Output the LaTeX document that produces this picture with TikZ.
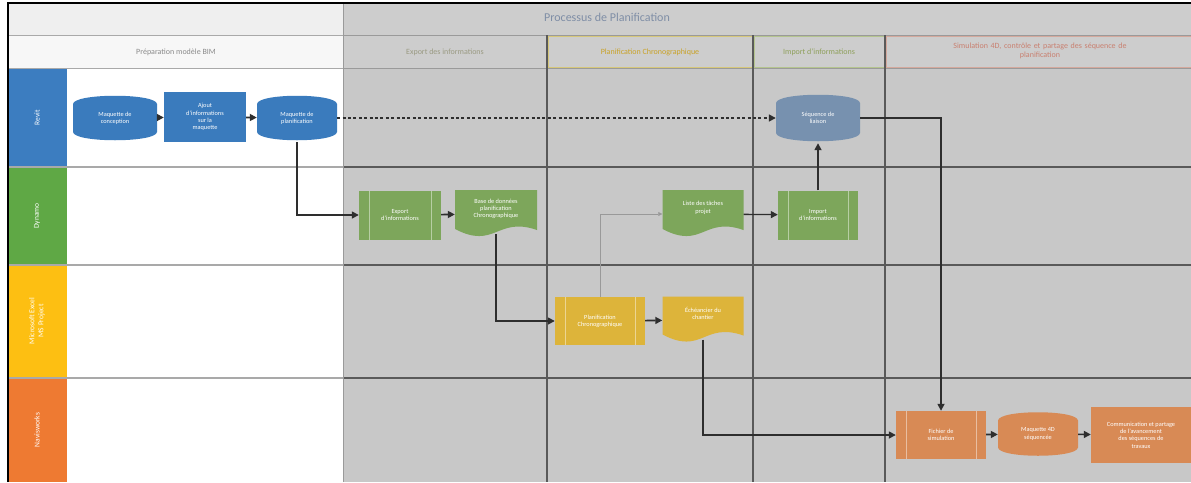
\documentclass[tikz,border=0pt]{standalone}
\usepackage{fontspec}
\setmainfont{Carlito}
\usetikzlibrary{arrows.meta,calc}

\definecolor{bluelane}{HTML}{3C7DC0}
\definecolor{greenlane}{HTML}{5FA845}
\definecolor{yellowlane}{HTML}{FDBF12}
\definecolor{orangelane}{HTML}{EE7A32}
\definecolor{bluefill}{HTML}{3A7BBD}
\definecolor{bluemuted}{HTML}{7791AF}
\definecolor{greenmuted}{HTML}{7DA65B}
\definecolor{yellowmuted}{HTML}{DDB43A}
\definecolor{orangemuted}{HTML}{D88A55}
\definecolor{planbg}{HTML}{C8C8C8}
\definecolor{planhead}{HTML}{CDCDCD}
\definecolor{gridlight}{HTML}{A9A9A9}
\definecolor{gridmid}{HTML}{9A9A9A}
\definecolor{griddark}{HTML}{5A5A5A}
\definecolor{connector}{HTML}{2E2E2E}
\definecolor{titleband}{HTML}{EFEFEF}
\definecolor{headband}{HTML}{F7F7F7}
\definecolor{cellyellow}{HTML}{D6C77A}
\definecolor{cellgreen}{HTML}{B4C48E}
\definecolor{cellorange}{HTML}{D4A89C}
\definecolor{titletext}{HTML}{7F8EA6}
\definecolor{preptext}{HTML}{8A8A8A}
\definecolor{exporttext}{HTML}{9A9A82}
\definecolor{plantext}{HTML}{C9A227}
\definecolor{importtext}{HTML}{8E9F5A}
\definecolor{simtext}{HTML}{C98070}

\tikzset{
  nodetext/.style={text=white, font=\fontsize{6.3}{7.3}\selectfont, align=center, inner sep=1pt},
  procbox/.style={nodetext, fill=#1, minimum width=82, minimum height=50},
  predef/.style={procbox=#1,
    path picture={
      \draw[white, opacity=0.45, line width=0.5pt]
        ([xshift=10pt]path picture bounding box.north west) -- ([xshift=10pt]path picture bounding box.south west)
        ([xshift=-10pt]path picture bounding box.north east) -- ([xshift=-10pt]path picture bounding box.south east);
    }},
  store/.style={nodetext, minimum width=82, minimum height=48,
    path picture={
      \fill[#1]
        ([yshift=-10pt]path picture bounding box.north west)
          .. controls ([xshift=1pt,yshift=1pt]path picture bounding box.north west)
          and ([xshift=-1pt,yshift=1pt]path picture bounding box.north east)
          .. ([yshift=-10pt]path picture bounding box.north east)
        -- ([yshift=10pt]path picture bounding box.south east)
          .. controls ([xshift=-1pt,yshift=-1pt]path picture bounding box.south east)
          and ([xshift=1pt,yshift=-1pt]path picture bounding box.south west)
          .. ([yshift=10pt]path picture bounding box.south west)
        -- cycle;
    }},
  document/.style={nodetext, minimum width=81, minimum height=48,
    path picture={
      \fill[#1]
        (path picture bounding box.north west) -- (path picture bounding box.north east)
        -- ([yshift=8pt]path picture bounding box.south east)
          .. controls ([xshift=-40pt,yshift=22pt]path picture bounding box.south east)
          and ([xshift=40pt,yshift=-12pt]path picture bounding box.south west)
          .. ([yshift=9pt]path picture bounding box.south west)
        -- cycle;
    }},
  conn/.style={draw=connector, line width=1.6pt, -{Triangle[length=7pt,width=7pt]}},
  dotconn/.style={conn, dash pattern=on 3pt off 2.4pt},
  thinconn/.style={draw=gray!80, line width=0.6pt, -{Triangle[length=4pt,width=4pt]}},
  lanelabel/.style={rotate=90, text=white, font=\fontsize{7.5}{9}\selectfont, align=center},
  colhead/.style={font=\fontsize{8}{9.5}\selectfont, align=center},
}

\begin{document}
\begin{tikzpicture}[x=1pt,y=-1pt]
\useasboundingbox (0,0) rectangle (1191,482);
\fill[white] (0,0) rectangle (1191,482);

% left (preparation) part
\fill[titleband] (8,3) rectangle (343,35);
\fill[headband] (8,35) rectangle (343,68);
% shaded planning part
\fill[planbg] (343,3) rectangle (1191,482);
\fill[planhead] (343,3) rectangle (1191,68);

% lane colour bars
\fill[bluelane]   (8,68)  rectangle (67,167);
\fill[greenlane]  (8,167) rectangle (67,265);
\fill[yellowlane] (8,265) rectangle (67,378);
\fill[orangelane] (8,378) rectangle (67,482);

% header cell borders
\draw[cellyellow, line width=0.6pt] (548,36) rectangle (752,67);
\draw[cellgreen, line width=0.6pt] (754,36) rectangle (884,67);
\draw[cellorange, line width=0.6pt] (886,36) rectangle (1191,67);

% grid lines
\foreach \yy in {35,68} {
  \draw[gridlight, line width=1pt] (8,\yy) -- (343,\yy);
  \draw[gridmid, line width=1pt] (343,\yy) -- (1191,\yy);
}
\foreach \yy in {167,265,378} {
  \draw[gridlight, line width=1.2pt] (8,\yy) -- (343,\yy);
  \draw[griddark, line width=1.2pt] (343,\yy) -- (1191,\yy);
}
\draw[gridmid, line width=1pt] (343,3) -- (343,482);
\foreach \xx in {547,753,885}
  \draw[griddark, line width=1.2pt] (\xx,35) -- (\xx,482);

% outer frame
\draw[black, line width=2pt] (8,482) -- (8,3) -- (1191,3);

% headings
\node[font=\fontsize{12}{14}\selectfont, text=titletext] (title) at (607,17) {Processus de Planification};
\node[colhead, text=preptext] (h1) at (176,52) {Préparation modèle BIM};
\node[colhead, text=exporttext] (h2) at (445,52) {Export des informations};
\node[colhead, text=plantext] (h3) at (650,52) {Planification Chronographique};
\node[colhead, text=importtext] (h4) at (819,52) {Import d'informations};
\node[colhead, text=simtext, text width=300] (h5) at (1040,51) {Simulation 4D, contrôle et partage des séquence de\\ planification};

% lane names
\node[lanelabel] (l1) at (37,118) {Revit};
\node[lanelabel] (l2) at (37,216) {Dynamo};
\node[lanelabel] (l3) at (37,321) {Microsoft Excel\\ MS Project};
\node[lanelabel] (l4) at (37,430) {Navisworks};

% Revit lane
\node[store=bluefill, minimum width=84] (cyl1) at (115,118) {Maquette de\\ conception};
\node[procbox=bluefill] (ajout) at (205,117) {Ajout\\ d'informations\\ sur la\\ maquette};
\node[store=bluefill, minimum width=80] (cyl2) at (297,118) {Maquette de\\ planification};
\node[store=bluemuted, minimum width=84, minimum height=50] (rcyl) at (818,118) {Séquence de\\ liaison};

% Dynamo lane
\node[predef=greenmuted, minimum height=49] (lien) at (400,215) {Export\\ d'informations};
\node[document=greenmuted, minimum width=82] (doc1) at (496,214) {Base de données\\ planification\\ Chronographique\\[4pt]};
\node[document=greenmuted] (doc2) at (703,214) {Liste des tâches\\ projet\\[6pt]};
\node[predef=greenmuted, minimum width=80, minimum height=49] (import) at (818,215) {Import\\ d'informations};

% Excel / Project lane
\node[predef=yellowmuted, minimum width=90, minimum height=48] (ybox) at (600,321) {Planification\\ Chronographique};
\node[document=yellowmuted, minimum height=47] (ydoc) at (703,320) {Échéancier du\\ chantier\\[6pt]};

% Navisworks lane
\node[predef=orangemuted, minimum width=90, minimum height=48] (obox1) at (941,435) {Fichier de\\ simulation};
\node[store=orangemuted, minimum width=80, minimum height=47] (ocyl) at (1038,434) {Maquette 4D\\ séquencée};
\node[procbox=orangemuted, minimum width=100, minimum height=56] (obox2) at (1141,435) {Communication et partage\\ de l'avancement\\ des séquences de\\ travaux};

% connectors
\draw[conn] (cyl1) -- (ajout);
\draw[conn] (ajout) -- (cyl2);
\draw[dotconn] (cyl2) -- (rcyl);
\draw[conn] (cyl2.south) |- (lien.west);
\draw[conn] (lien) -- (doc1);
\draw[conn] ([yshift=4pt]doc1.south) |- (ybox.west);
\draw[thinconn] (ybox.north) |- (doc2.west);
\draw[conn] (ybox) -- (ydoc);
\draw[conn, line width=1.3pt] (doc2) -- (import);
\draw[conn] (import) -- (rcyl);
\draw[conn] (rcyl.east) -| (obox1.north);
\draw[conn] ([yshift=4pt]ydoc.south) |- (obox1.west);
\draw[conn] (obox1) -- (ocyl);
\draw[conn] (ocyl) -- (obox2);
\end{tikzpicture}
\end{document}
